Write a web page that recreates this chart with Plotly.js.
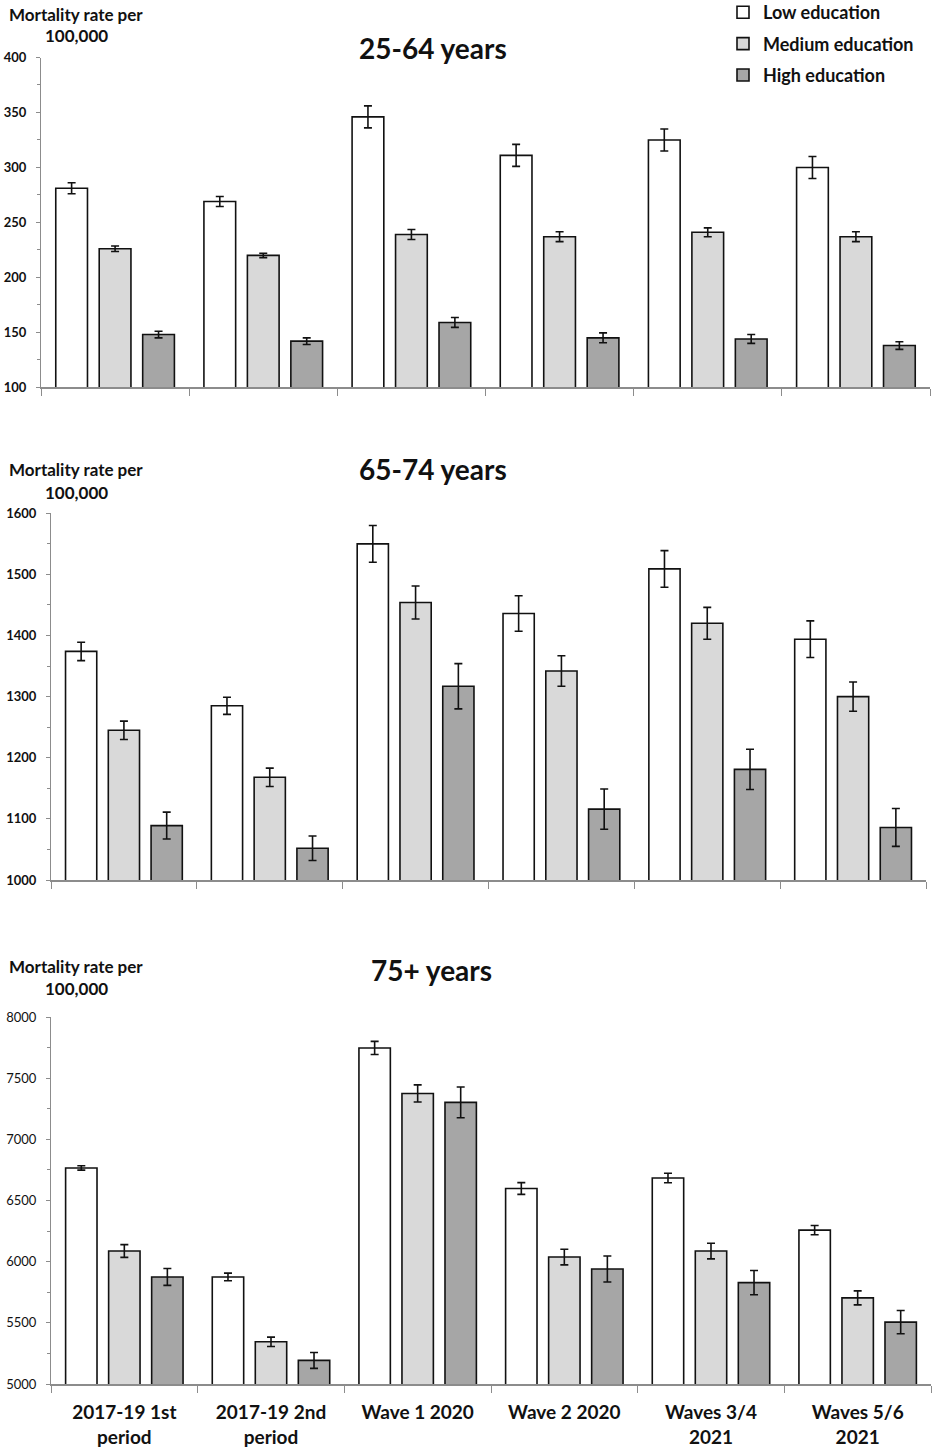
<!DOCTYPE html>
<html>
<head>
<meta charset="utf-8">
<script src="https://cdn.plot.ly/plotly-3.0.1.min.js"></script>
<style>html,body{margin:0;padding:0;background:#fff;}#chart{width:935px;height:1453px;}</style>
</head>
<body>
<div id="chart"></div>
<script>
// Categories (x axis)
const categories = ['2017-19 1st<br>period', '2017-19 2nd<br>period', 'Wave 1 2020', 'Wave 2 2020', 'Waves 3/4<br>2021', 'Waves 5/6<br>2021'];
const seriesNames = ['Low education', 'Medium education', 'High education'];

// 25-64 years
const young_low = [281, 269, 346, 311, 325, 300];
const young_low_err = [5, 4.5, 10, 10, 10, 10];
const young_med = [226, 220, 239, 237, 241, 237];
const young_med_err = [2.5, 2, 4.5, 4.5, 4, 4.5];
const young_high = [148, 142, 159, 145, 144, 138];
const young_high_err = [3, 3, 4.5, 4.5, 4, 3.5];

// 65-74 years
const mid_low = [1374, 1285, 1550, 1436, 1509, 1394];
const mid_low_err = [15, 14, 30, 29, 30, 30];
const mid_med = [1245, 1168, 1454, 1342, 1420, 1300];
const mid_med_err = [15, 15, 27, 25, 26, 24];
const mid_high = [1089, 1052, 1317, 1116, 1181, 1086];
const mid_high_err = [22, 20, 37, 33, 33, 31];

// 75+ years
const old_low = [6766, 5875, 7747, 6598, 6684, 6258];
const old_low_err = [18, 31, 54, 48, 39, 38];
const old_med = [6087, 5345, 7375, 6038, 6087, 5704];
const old_med_err = [52, 38, 70, 64, 64, 57];
const old_high = [5875, 5193, 7302, 5940, 5829, 5506];
const old_high_err = [69, 65, 126, 106, 99, 95];

// Panel tick/title labels
const panelTitles = ['25-64 years', '65-74 years', '75+ years'];
const yLabelLine1 = 'Mortality rate per';
const yLabelLine2 = '100,000';

const fills = ['#ffffff', '#d9d9d9', '#a6a6a6'];
const FONT = 'Lato, "Open Sans", sans-serif';

const panels = [
  {vals: [young_low, young_med, young_high], errs: [young_low_err, young_med_err, young_high_err], xa: 'x', ya: 'y'},
  {vals: [mid_low, mid_med, mid_high], errs: [mid_low_err, mid_med_err, mid_high_err], xa: 'x2', ya: 'y2'},
  {vals: [old_low, old_med, old_high], errs: [old_low_err, old_med_err, old_high_err], xa: 'x3', ya: 'y3'}
];

const data = [];
panels.forEach((p, pi) => {
  for (let s = 0; s < 3; s++) {
    data.push({
      type: 'bar',
      x: categories,
      y: p.vals[s],
      name: seriesNames[s],
      legendgroup: 'g' + s,
      showlegend: pi === 0,
      xaxis: p.xa,
      yaxis: p.ya,
      marker: {color: fills[s], line: {color: '#111', width: 1.6}},
      error_y: {type: 'data', array: p.errs[s], visible: true, color: '#111', thickness: 1.6, width: 4},
      hoverinfo: 'x+y+name'
    });
  }
});

const W = 935, H = 1453;
function xd(a, b) { return [a / W, b / W]; }
function yd(top, bottom) { return [1 - bottom / H, 1 - top / H]; }

function xaxis(dom, anchor, labels) {
  return {
    domain: dom, anchor: anchor, type: 'category',
    tickson: 'boundaries', ticks: 'outside', ticklen: 7, tickwidth: 1, tickcolor: '#8c8c8c',
    showline: true, linecolor: '#8c8c8c', linewidth: 2,
    showgrid: false, zeroline: false,
    showticklabels: labels, ticklabelstandoff: 10,
    tickfont: {family: FONT, size: 19, color: '#111', weight: 'bold'},
    automargin: false, fixedrange: true
  };
}
function yaxis(dom, anchor, range, dtick, bold) {
  return {
    domain: dom, anchor: anchor, range: range, dtick: dtick, tick0: range[0],
    ticks: 'outside', ticklen: 4, tickwidth: 1, tickcolor: '#8c8c8c',
    minor: {dtick: dtick / 2, tick0: range[0], ticks: 'outside', ticklen: 3, tickcolor: '#8c8c8c', showgrid: false},
    showline: true, linecolor: '#8c8c8c', linewidth: 1,
    showgrid: false, zeroline: false, ticklabelstandoff: 7,
    tickfont: {family: FONT, size: 13, color: '#111', weight: bold ? 'bold' : 'normal'},
    automargin: false, fixedrange: true
  };
}

const annotations = [];
const titleY = [48, 469, 970];
const lab1Y = [14, 470, 966];
const lab2Y = [35.5, 492, 988];
const titleX = [433, 433, 431];
for (let i = 0; i < 3; i++) {
  annotations.push({xref: 'paper', yref: 'paper', x: titleX[i] / W, y: 1 - titleY[i] / H, xanchor: 'center', yanchor: 'middle',
    text: panelTitles[i], showarrow: false, font: {family: FONT, size: 28, color: '#111', weight: 'bold'}});
  annotations.push({xref: 'paper', yref: 'paper', x: 76 / W, y: 1 - lab1Y[i] / H, xanchor: 'center', yanchor: 'middle',
    text: yLabelLine1, showarrow: false, font: {family: FONT, size: 17, color: '#111', weight: 'bold'}});
  annotations.push({xref: 'paper', yref: 'paper', x: 76 / W, y: 1 - lab2Y[i] / H, xanchor: 'center', yanchor: 'middle',
    text: yLabelLine2, showarrow: false, font: {family: FONT, size: 17, color: '#111', weight: 'bold'}});
}

const layout = {
  width: W, height: H,
  margin: {l: 0, r: 0, t: 0, b: 0, autoexpand: false},
  paper_bgcolor: '#fff', plot_bgcolor: '#fff',
  barmode: 'group', bargap: 0.12, bargroupgap: 0.27,
  showlegend: true,
  legend: {x: 723 / W, y: 1 + 6 / H, xanchor: 'left', yanchor: 'top', traceorder: 'grouped', tracegroupgap: 5,
    bgcolor: 'rgba(0,0,0,0)', font: {family: FONT, size: 18, color: '#111', weight: 'bold'}, itemwidth: 30},
  xaxis: xaxis(xd(41, 930), 'y', false),
  yaxis: yaxis(yd(57.5, 387.3), 'x', [100, 400], 50, true),
  xaxis2: xaxis(xd(51, 926), 'y2', false),
  yaxis2: yaxis(yd(513.3, 880), 'x2', [1000, 1600], 100, true),
  xaxis3: xaxis(xd(51, 931), 'y3', true),
  yaxis3: yaxis(yd(1017, 1384), 'x3', [5000, 8000], 500, false),
  annotations: annotations
};

Plotly.newPlot('chart', data, layout, {displayModeBar: false, staticPlot: true});
</script>
</body>
</html>
